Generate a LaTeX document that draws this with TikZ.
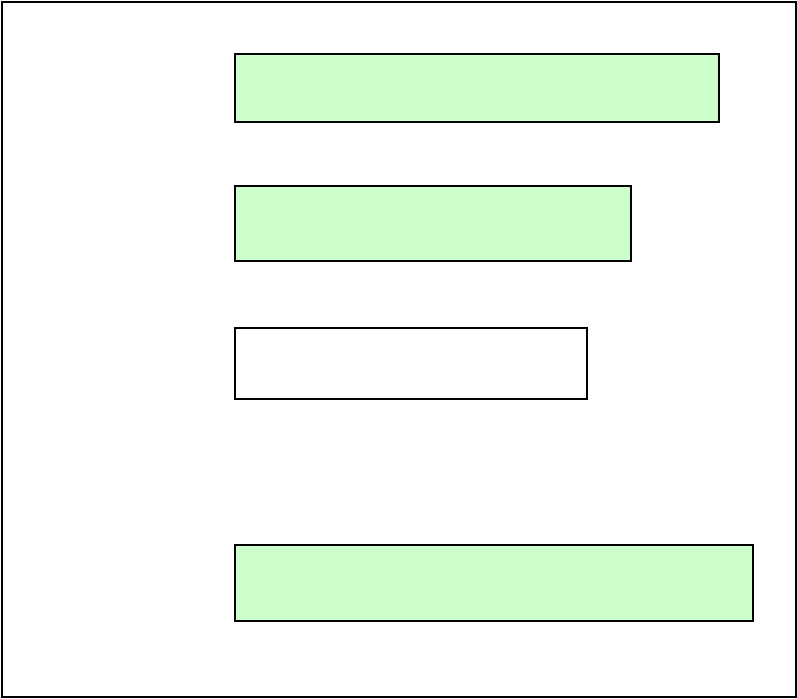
\documentclass[tikz,border=0pt]{standalone}
\usepackage{tikz}
\definecolor{barfill}{HTML}{CCFFCC}
\begin{document}
\begin{tikzpicture}[x=0.02cm,y=-0.02cm,line width=1.1pt]
			\tikzset{bar/.style={draw=black,fill=barfill,line width=1.4pt},
				emptybar/.style={draw=black,fill=white,line width=1.4pt}}
			\useasboundingbox (0,0) rectangle (797,698);
			\draw (2,2) rectangle (796,697);
			
			\draw[bar] (235,54) rectangle (719,122);
			\draw[bar] (235,186) rectangle (631,261);
			\draw[emptybar] (235,328) rectangle (587,399);
			\draw[bar] (235,545) rectangle (753,621);
		\end{tikzpicture}
\end{document}
